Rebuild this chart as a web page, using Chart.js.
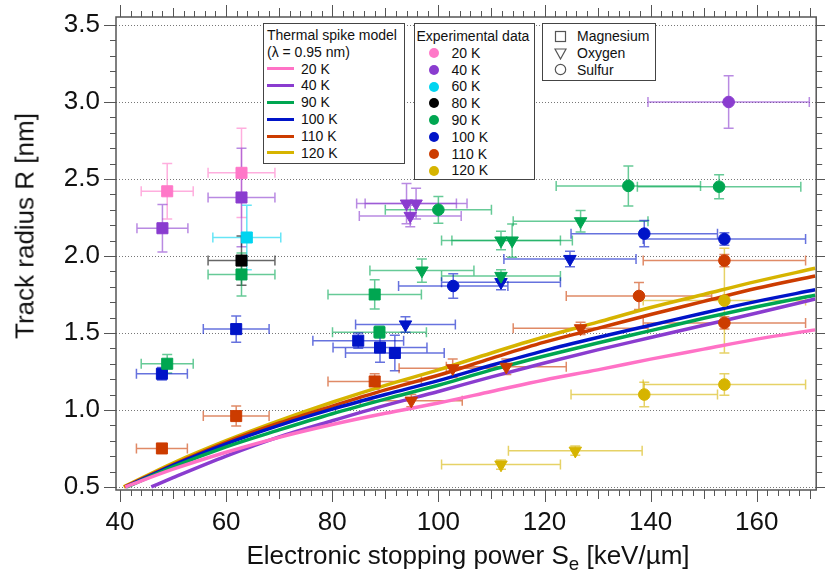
<!DOCTYPE html>
<html>
<head>
<meta charset="utf-8">
<script src="https://cdn.jsdelivr.net/npm/chart.js@4.4.0/dist/chart.umd.min.js"></script>
<style>
  body { margin: 0; background: #fff; font-family: "Liberation Sans", Arial, sans-serif; color: #111; }
  #wrap { position: relative; width: 825px; height: 570px; overflow: hidden; }
  #chart { position: absolute; left: 0; top: 0; }
  .box { position: absolute; top: 23px; background: #fff; border: 1.5px solid #444; box-sizing: border-box;
         font-size: 14px; line-height: 16.8px; white-space: nowrap; }
  .ln { display: inline-block; width: 27px; height: 3px; vertical-align: middle; margin: 0 7px 0 0; position: relative; top: -1px; }
  .dot { display: inline-block; width: 10px; height: 10px; border-radius: 50%; vertical-align: middle; margin: 0 13px 0 12px; position: relative; top: -1px; }
  .sym { display: inline-block; width: 13px; height: 13px; vertical-align: middle; margin: 0 10px 0 11px; position: relative; top: -1px; }
  #ytitle { position: absolute; left: 25px; top: 226px; transform: translate(-50%, -50%) rotate(-90deg); font-size: 26px; white-space: nowrap; }
  #xtitle { position: absolute; left: 468px; top: 542px; transform: translateX(-50%); font-size: 26px; line-height: 26px; white-space: nowrap; }
  #xtitle sub { font-size: 0.72em; vertical-align: baseline; position: relative; top: 0.3em; }
</style>
</head>
<body>
<div id="wrap">
  <canvas id="chart" width="825" height="570"></canvas>
  <div id="ytitle">Track radius R [nm]</div>
  <div id="xtitle">Electronic stopping power S<sub>e</sub> [keV/µm]</div>
  <div class="box" id="leg1" style="left:263px;width:142px;height:141px;padding:3px 0 0 3px">
    <div>Thermal spike model</div>
    <div>(λ = 0.95 nm)</div>
  </div>
  <div class="box" id="leg2" style="left:414px;width:121px;height:157px;padding:4px 0 0 1.5px">
    <div>Experimental data</div>
  </div>
  <div class="box" id="leg3" style="left:542px;width:114px;height:58px;padding:4px 0 0 0"></div>
</div>
<script>
// axis ticks
const xTicks = [40, 60, 80, 100, 120, 140, 160];
const yTicks = [0.5, 1.0, 1.5, 2.0, 2.5, 3.0, 3.5];

// thermal spike model curves [Se, R]
const modelLabels = ['20 K', '40 K', '90 K', '100 K', '110 K', '120 K'];
const modelColors = ['#ff72c6', '#8a3ccf', '#00a651', '#0014c8', '#cc3c00', '#d6b400'];
const model20K = [[41, 0.50], [50, 0.615], [60, 0.725], [70, 0.822], [80, 0.905], [90, 0.978], [100, 1.045], [110, 1.12], [120, 1.195], [130, 1.26], [140, 1.33], [150, 1.395], [160, 1.46], [171, 1.52]];
const model40K = [[45.9, 0.50], [50, 0.56], [60, 0.70], [70, 0.825], [80, 0.93], [90, 1.03], [100, 1.12], [110, 1.215], [120, 1.305], [130, 1.39], [140, 1.47], [150, 1.55], [160, 1.63], [171, 1.72]];
const model90K = [[41.3, 0.50], [50, 0.63], [60, 0.76], [70, 0.87], [80, 0.975], [90, 1.07], [100, 1.16], [110, 1.26], [120, 1.35], [130, 1.435], [140, 1.515], [150, 1.595], [160, 1.67], [171, 1.745]];
const model100K = [[41.1, 0.50], [50, 0.64], [60, 0.78], [70, 0.90], [80, 1.005], [90, 1.10], [100, 1.19], [110, 1.29], [120, 1.385], [130, 1.47], [140, 1.55], [150, 1.63], [160, 1.705], [171, 1.78]];
const model110K = [[40.9, 0.50], [50, 0.645], [60, 0.79], [70, 0.915], [80, 1.025], [90, 1.13], [100, 1.225], [110, 1.335], [120, 1.44], [130, 1.53], [140, 1.62], [150, 1.705], [160, 1.79], [171, 1.87]];
const model120K = [[40.7, 0.50], [50, 0.655], [60, 0.80], [70, 0.93], [80, 1.05], [90, 1.16], [100, 1.26], [110, 1.37], [120, 1.475], [130, 1.57], [140, 1.665], [150, 1.75], [160, 1.835], [171, 1.92]];

// experimental data: [ion, Se, R, dSe, dR]
const expLabels = ['20 K', '40 K', '60 K', '80 K', '90 K', '100 K', '110 K', '120 K'];
const expColors = ['#ff78c8', '#8a3ccf', '#00d4f0', '#000000', '#00a651', '#0014c8', '#cc3c00', '#d6b400'];
const exp20K = [
    ['Mg', 48.9, 2.42, 4.9, 0.18],
    ['Mg', 62.9, 2.54, 6.3, 0.29]
];
const exp40K = [
    ['Mg', 48.0, 2.18, 4.8, 0.155],
    ['Mg', 62.9, 2.38, 6.3, 0.32],
    ['O', 94.0, 2.34, 9.4, 0.13],
    ['O', 95.8, 2.34, 9.6, 0.10],
    ['O', 94.7, 2.26, 9.6, 0.07],
    ['S', 154.7, 3.00, 15.2, 0.17]
];
const exp60K = [
    ['Mg', 63.9, 2.12, 6.4, 0.21]
];
const exp80K = [
    ['Mg', 62.9, 1.97, 6.3, 0.16]
];
const exp90K = [
    ['Mg', 48.9, 1.30, 4.9, 0.06],
    ['Mg', 62.9, 1.88, 6.3, 0.14],
    ['Mg', 88.0, 1.75, 8.8, 0.095],
    ['Mg', 88.9, 1.505, 8.85, 0.04],
    ['O', 96.9, 1.905, 9.8, 0.076],
    ['O', 111.8, 2.10, 11.2, 0.06],
    ['O', 113.9, 2.10, 11.35, 0.108],
    ['O', 111.8, 1.87, 11.2, 0.04],
    ['O', 126.8, 2.225, 12.7, 0.07],
    ['S', 100.0, 2.30, 10.0, 0.087],
    ['S', 135.8, 2.455, 13.6, 0.13],
    ['S', 152.9, 2.45, 15.4, 0.078]
];
const exp100K = [
    ['Mg', 47.9, 1.235, 4.8, 0.04],
    ['Mg', 61.9, 1.525, 6.2, 0.085],
    ['Mg', 84.9, 1.45, 8.55, 0.05],
    ['Mg', 89.0, 1.405, 8.85, 0.095],
    ['Mg', 91.8, 1.37, 9.3, 0.115],
    ['O', 93.8, 1.555, 9.4, 0.05],
    ['O', 111.8, 1.83, 11.2, 0.05],
    ['O', 124.8, 1.98, 12.45, 0.05],
    ['S', 102.8, 1.805, 10.3, 0.08],
    ['S', 138.8, 2.145, 13.8, 0.085],
    ['S', 153.9, 2.11, 15.3, 0.04]
];
const exp110K = [
    ['Mg', 47.9, 0.75, 4.8, 0.03],
    ['Mg', 61.9, 0.96, 6.2, 0.065],
    ['Mg', 88.0, 1.185, 8.8, 0.05],
    ['O', 94.9, 1.06, 9.6, 0.04],
    ['O', 102.7, 1.27, 10.1, 0.06],
    ['O', 112.8, 1.28, 11.3, 0.05],
    ['O', 126.8, 1.53, 12.7, 0.04],
    ['S', 137.8, 1.74, 13.7, 0.088],
    ['S', 153.9, 1.97, 15.3, 0.04],
    ['S', 153.9, 1.565, 15.3, 0.04]
];
const exp120K = [
    ['O', 111.8, 0.645, 11.2, 0.03],
    ['O', 125.8, 0.735, 12.6, 0.03],
    ['S', 138.8, 1.10, 13.8, 0.08],
    ['S', 153.9, 1.165, 15.3, 0.07],
    ['S', 153.9, 1.71, 15.3, 0.34]
];

const ionNames = ['Magnesium', 'Oxygen', 'Sulfur'];
const ionStyle = { Mg: 'rect', O: 'triangle', S: 'circle' };
const ionRadius = { Mg: 7.8, O: 7.2, S: 5.8 };
const FONT = "'Liberation Sans', Arial, sans-serif";

const modelSets = [model20K, model40K, model90K, model100K, model110K, model120K];
const expSets = [exp20K, exp40K, exp60K, exp80K, exp90K, exp100K, exp110K, exp120K];

const lineDatasets = modelSets.map((pts, i) => ({
    data: pts.map(([x, y]) => ({ x, y })),
    showLine: true,
    borderColor: modelColors[i],
    borderWidth: 3.5,
    pointRadius: 0,
    fill: false,
    cubicInterpolationMode: 'monotone',
    order: 2
}));

const pointDatasets = expSets.map((rows, i) => ({
    data: rows.map(([ion, x, y, dx, dy]) => ({ ion, x, y, dx, dy })),
    showLine: false,
    backgroundColor: expColors[i],
    borderColor: expColors[i],
    borderWidth: 1,
    pointStyle: c => (c.raw ? ionStyle[c.raw.ion] : 'circle'),
    pointRadius: c => (c.raw ? ionRadius[c.raw.ion] : 5),
    pointRotation: c => (c.raw && c.raw.ion === 'O' ? 180 : 0),
    errColor: expColors[i] + '99',
    order: 1
}));

// dotted grid, error bars, frame and minor ticks
const axesDecor = {
    id: 'axesDecor',
    beforeDatasetsDraw(chart) {
        const { ctx, chartArea: a, scales: { x, y } } = chart;
        ctx.save();
        ctx.strokeStyle = '#777';
        ctx.lineWidth = 1;
        ctx.setLineDash([1, 2]);
        yTicks.forEach(v => {
            const py = Math.round(y.getPixelForValue(v)) + 0.5;
            ctx.beginPath();
            ctx.moveTo(a.left, py);
            ctx.lineTo(a.right, py);
            ctx.stroke();
        });
        ctx.setLineDash([]);
        ctx.lineWidth = 1.5;
        chart.data.datasets.forEach(ds => {
            if (!ds.errColor) return;
            ctx.strokeStyle = ds.errColor;
            ds.data.forEach(p => {
                const px = x.getPixelForValue(p.x), py = y.getPixelForValue(p.y);
                const x0 = x.getPixelForValue(p.x - p.dx), x1 = x.getPixelForValue(p.x + p.dx);
                const y0 = y.getPixelForValue(p.y - p.dy), y1 = y.getPixelForValue(p.y + p.dy);
                ctx.beginPath();
                ctx.moveTo(x0, py); ctx.lineTo(x1, py);
                ctx.moveTo(x0, py - 5); ctx.lineTo(x0, py + 5);
                ctx.moveTo(x1, py - 5); ctx.lineTo(x1, py + 5);
                ctx.moveTo(px, y0); ctx.lineTo(px, y1);
                ctx.moveTo(px - 5, y0); ctx.lineTo(px + 5, y0);
                ctx.moveTo(px - 5, y1); ctx.lineTo(px + 5, y1);
                ctx.stroke();
            });
        });
        ctx.restore();
    },
    afterDraw(chart) {
        const { ctx, chartArea: a, scales: { x, y } } = chart;
        ctx.save();
        ctx.strokeStyle = '#555';
        ctx.lineWidth = 1.5;
        ctx.strokeRect(a.left, a.top, a.right - a.left, a.bottom - a.top);
        ctx.lineWidth = 1;
        ctx.beginPath();
        for (let v = 40; v <= 170; v += 2) {
            const len = v % 20 === 0 ? 12 : (v % 10 === 0 ? 9 : 6);
            const px = Math.round(x.getPixelForValue(v)) + 0.5;
            ctx.moveTo(px, a.bottom); ctx.lineTo(px, a.bottom + len);
            ctx.moveTo(px, a.top); ctx.lineTo(px, a.top - len);
        }
        for (let k = 5; k <= 35; k++) {
            const len = k % 5 === 0 ? 12 : 6;
            const py = Math.round(y.getPixelForValue(k / 10)) + 0.5;
            ctx.moveTo(a.left, py); ctx.lineTo(a.left - len, py);
            ctx.moveTo(a.right, py); ctx.lineTo(a.right + len, py);
        }
        ctx.stroke();
        ctx.restore();
    }
};

new Chart(document.getElementById('chart'), {
    type: 'scatter',
    data: { datasets: [...pointDatasets, ...lineDatasets] },
    plugins: [axesDecor],
    options: {
        responsive: false,
        animation: false,
        devicePixelRatio: 1,
        layout: { padding: { top: 17, right: 2, left: 0, bottom: 0 } },
        plugins: { legend: { display: false }, tooltip: { enabled: false } },
        scales: {
            x: {
                type: 'linear', min: 39.25, max: 171.2,
                grid: { display: false, drawTicks: false },
                border: { display: false },
                ticks: { font: { family: FONT, size: 26 }, color: '#111', padding: 17, maxRotation: 0, autoSkip: false },
                afterBuildTicks: s => { s.ticks = xTicks.map(v => ({ value: v })); },
                afterFit: s => { s.height = 80; s.paddingLeft = 0; s.paddingRight = 0; }
            },
            y: {
                type: 'linear', min: 0.48, max: 3.552,
                grid: { display: false, drawTicks: false },
                border: { display: false },
                ticks: { font: { family: FONT, size: 26 }, color: '#111', padding: 16, autoSkip: false, callback: v => v.toFixed(1) },
                afterBuildTicks: s => { s.ticks = yTicks.map(v => ({ value: v })); },
                afterFit: s => { s.width = 116; s.paddingTop = 0; s.paddingBottom = 0; }
            }
        }
    }
});

// legends
const leg1 = document.getElementById('leg1');
modelLabels.forEach((lab, i) => {
    const row = document.createElement('div');
    row.innerHTML = `<span class="ln" style="background:${modelColors[i]}"></span>${lab}`;
    leg1.appendChild(row);
});
const leg2 = document.getElementById('leg2');
expLabels.forEach((lab, i) => {
    const row = document.createElement('div');
    row.innerHTML = `<span class="dot" style="background:${expColors[i]}"></span>${lab}`;
    leg2.appendChild(row);
});
const symbols = [
    '<rect x="1.5" y="1.5" width="10" height="10" fill="none" stroke="#555" stroke-width="1.2"/>',
    '<polygon points="1,2 12,2 6.5,12" fill="none" stroke="#555" stroke-width="1.2"/>',
    '<circle cx="6.5" cy="6.5" r="5.2" fill="none" stroke="#555" stroke-width="1.2"/>'
];
const leg3 = document.getElementById('leg3');
ionNames.forEach((name, i) => {
    const row = document.createElement('div');
    row.innerHTML = `<svg class="sym" viewBox="0 0 13 13">${symbols[i]}</svg>${name}`;
    leg3.appendChild(row);
});
</script>
</body>
</html>
